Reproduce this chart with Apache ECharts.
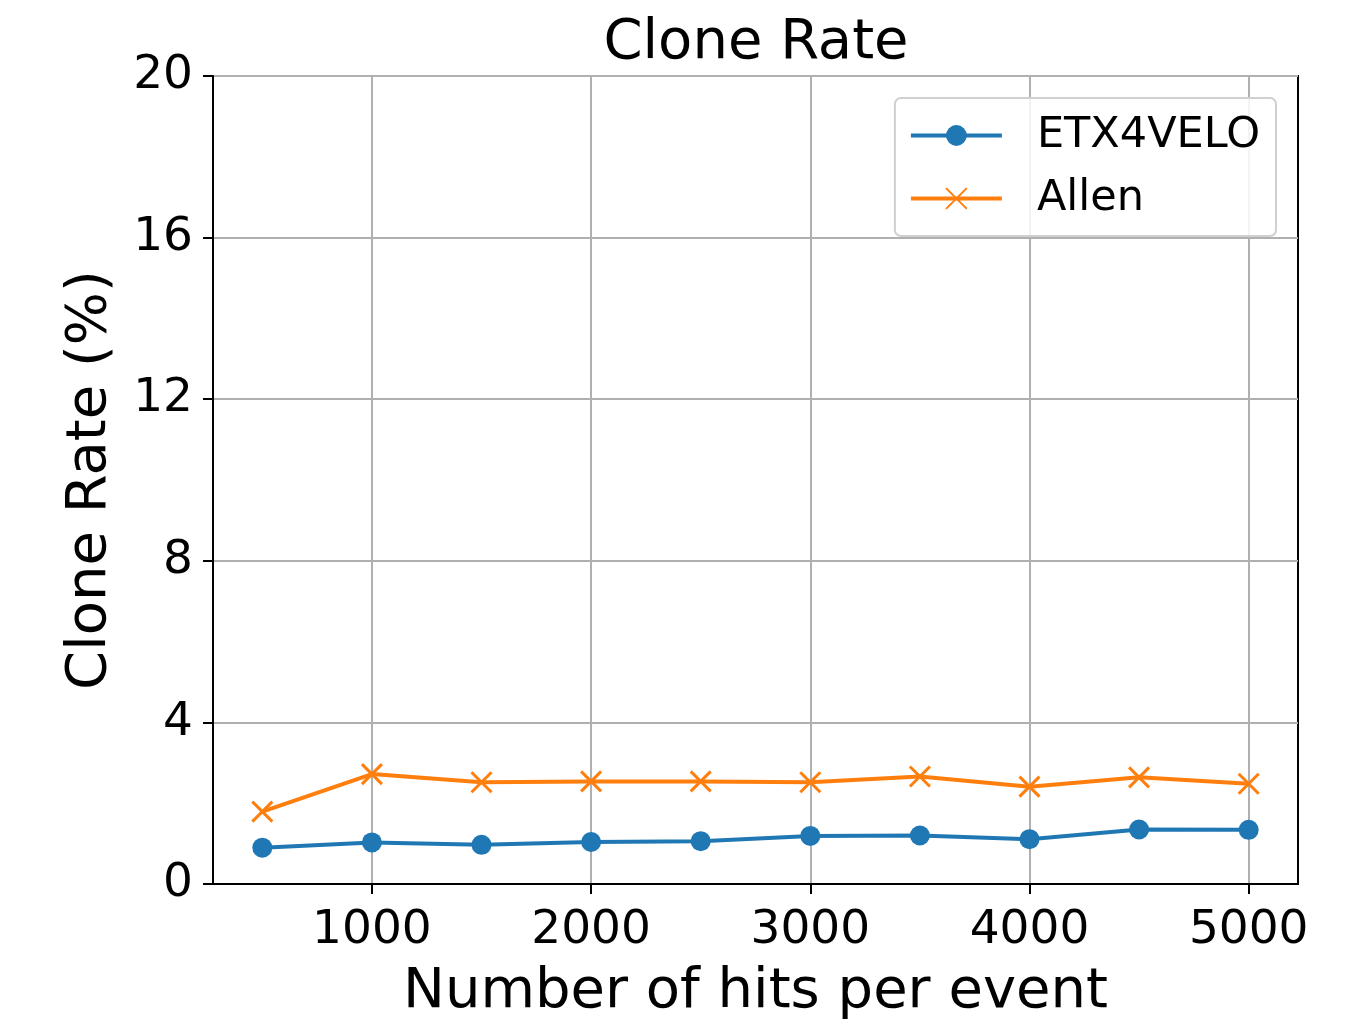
<!DOCTYPE html>
<html>
<head>
<meta charset="utf-8">
<script src="https://cdn.jsdelivr.net/npm/echarts@6/dist/echarts.min.js"></script>
<style>html,body{margin:0;padding:0;background:#fff}#c{width:1358px;height:1025px}</style>
</head>
<body>
<div id="c"></div>
<script>
const hits = [500, 1000, 1500, 2000, 2500, 3000, 3500, 4000, 4500, 5000];
const etx4velo = [0.90, 1.03, 0.97, 1.04, 1.06, 1.19, 1.20, 1.11, 1.35, 1.34];
const allen = [1.79, 2.72, 2.52, 2.54, 2.54, 2.52, 2.66, 2.41, 2.64, 2.48];
const xTicks = [1000, 2000, 3000, 4000, 5000];
const yTicks = [0, 4, 8, 12, 16, 20];

const FONT = 'DejaVu Sans';
const chart = echarts.init(document.getElementById('c'), null, {renderer: 'canvas'});
const pair = (xs, ys) => xs.map((x, i) => [x, ys[i]]);
chart.setOption({
  animation: false,
  backgroundColor: '#fff',
  title: {
    text: 'Clone Rate', left: 751, top: 10, textAlign: 'center',
    textStyle: {fontFamily: FONT, fontSize: 56, fontWeight: 'normal', color: '#000'}
  },
  grid: {left: 213, right: 60, top: 76, bottom: 141, containLabel: false,
         show: true, borderColor: '#000', borderWidth: 2, backgroundColor: 'transparent'},
  legend: {
    right: 82, top: 98, orient: 'vertical', itemWidth: 91, itemHeight: 26, itemGap: 20,
    padding: [16, 16, 16, 14],
    borderColor: '#d0d0d0', borderWidth: 2, borderRadius: 6, backgroundColor: 'rgba(255,255,255,0.85)',
    lineStyle: {width: 4},
    textStyle: {fontFamily: FONT, fontSize: 43, color: '#000', padding: [0, 0, 0, 30]},
    data: ['ETX4VELO', 'Allen']
  },
  xAxis: {
    type: 'value', min: 275, max: 5225,
    name: 'Number of hits per event', nameLocation: 'middle', nameGap: 80,
    nameTextStyle: {fontFamily: FONT, fontSize: 56, color: '#000'},
    axisLine: {show: true, lineStyle: {color: '#000', width: 2}},
    axisTick: {show: true, inside: false, length: 10, lineStyle: {color: '#000', width: 2}, customValues: xTicks},
    axisLabel: {fontFamily: FONT, fontSize: 47, color: '#000', margin: 23, customValues: xTicks,
                formatter: v => String(v)},
    splitLine: {show: true, lineStyle: {color: '#b0b0b0', width: 2}}
  },
  yAxis: {
    type: 'value', min: 0, max: 20, interval: 4,
    name: 'Clone Rate (%)', nameLocation: 'middle', nameGap: 95,
    nameTextStyle: {fontFamily: FONT, fontSize: 56, color: '#000'},
    axisLine: {show: true, lineStyle: {color: '#000', width: 2}},
    axisTick: {show: true, inside: false, length: 10, lineStyle: {color: '#000', width: 2}},
    axisLabel: {fontFamily: FONT, fontSize: 47, color: '#000', margin: 20},
    splitLine: {show: true, lineStyle: {color: '#b0b0b0', width: 2}}
  },
  series: [
    {
      name: 'ETX4VELO', type: 'line', data: pair(hits, etx4velo),
      symbol: 'circle', symbolSize: 20,
      lineStyle: {color: '#1f77b4', width: 4},
      itemStyle: {color: '#1f77b4'}
    },
    {
      name: 'Allen', type: 'line', data: pair(hits, allen),
      symbol: 'path://M0,0 L10,10 M10,0 L0,10', symbolSize: 20,
      lineStyle: {color: '#ff7f0e', width: 4},
      itemStyle: {color: 'rgba(0,0,0,0)', borderColor: '#ff7f0e', borderWidth: 3}
    }
  ]
});
</script>
</body>
</html>
